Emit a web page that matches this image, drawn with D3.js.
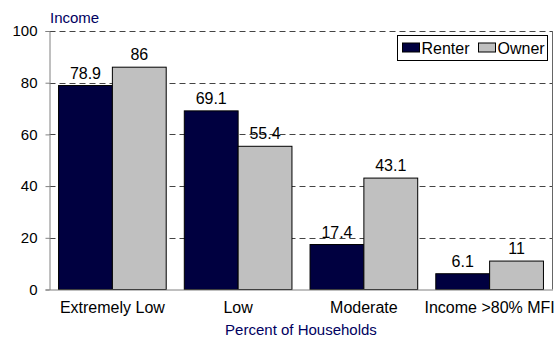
<!DOCTYPE html>
<html>
<head>
<meta charset="utf-8">
<script src="https://cdn.jsdelivr.net/npm/d3@7"></script>
<style>
  html, body { margin: 0; padding: 0; background: #fff; }
  svg { display: block; font-family: "Liberation Sans", Arial, sans-serif; }
</style>
</head>
<body>
<svg id="chart" width="556" height="337"></svg>
<script>
// Housing data by income group
const categories = ["Extremely Low", "Low", "Moderate", "Income >80% MFI"];
const seriesNames = ["Renter", "Owner"];
const renter = [78.9, 69.1, 17.4, 6.1];
const owner = [86, 55.4, 43.1, 11];
const yTicks = [0, 20, 40, 60, 80, 100];
const colors = ["#000040", "#c0c0c0"];

const svg = d3.select("#chart");
const plotLeft = 49.5, plotRight = 552.5, plotTop = 31, plotBottom = 289.5;
const FONT = "Liberation Sans, Arial, sans-serif";

const x = d3.scaleBand().domain(categories).range([plotLeft, plotRight]).paddingInner(0).paddingOuter(0);
const xs = d3.scaleBand().domain(seriesNames).range([0, x.bandwidth()]).paddingInner(0).paddingOuter(0.168);
const y = d3.scaleLinear().domain([0, 100]).range([plotBottom, plotTop]);

// Dashed gridlines
svg.append("g")
  .selectAll("line")
  .data(yTicks.filter(d => d > 0))
  .join("line")
  .attr("x1", plotLeft).attr("x2", plotRight)
  .attr("y1", d => Math.round(y(d)) + 0.5).attr("y2", d => Math.round(y(d)) + 0.5)
  .attr("stroke", "#444").attr("stroke-width", 1)
  .attr("stroke-dasharray", "6,4");

// Right border of plot
svg.append("line")
  .attr("x1", plotRight).attr("x2", plotRight).attr("y1", plotTop).attr("y2", plotBottom)
  .attr("stroke", "#666");

// Bars
const rows = categories.map((c, i) => ({ c, vals: [renter[i], owner[i]] }));
const groups = svg.append("g").selectAll("g").data(rows).join("g")
  .attr("transform", d => `translate(${x(d.c)},0)`);

groups.selectAll("rect")
  .data(d => d.vals.map((v, j) => ({ v, s: seriesNames[j], j })))
  .join("rect")
  .attr("x", d => xs(d.s))
  .attr("width", xs.bandwidth())
  .attr("y", d => y(d.v))
  .attr("height", d => y(0) - y(d.v))
  .attr("fill", d => colors[d.j])
  .attr("stroke", "#000").attr("stroke-width", 1);

groups.selectAll("text")
  .data(d => d.vals.map((v, j) => ({ v, s: seriesNames[j] })))
  .join("text")
  .attr("x", d => xs(d.s) + xs.bandwidth() / 2)
  .attr("y", d => y(d.v) - 7)
  .attr("text-anchor", "middle")
  .attr("font-size", 16)
  .attr("fill", "#000")
  .text(d => d.v);

// Y axis
const yAxis = d3.axisLeft(y).tickValues(yTicks).tickSize(4).tickPadding(8);
const gy = svg.append("g").attr("transform", `translate(${plotLeft},0)`).call(yAxis);
gy.select(".domain").attr("stroke", "#808080");
gy.selectAll(".tick line").attr("stroke", "#808080");
gy.selectAll(".tick text").attr("font-size", 15).attr("fill", "#000")
  .attr("font-family", FONT);

// X axis
const xAxis = d3.axisBottom(x).tickSize(0).tickPadding(12);
const gx = svg.append("g").attr("transform", `translate(0,${plotBottom})`).call(xAxis);
gx.select(".domain").attr("stroke", "#808080");
gx.selectAll(".tick text").attr("font-size", 16).attr("fill", "#000")
  .attr("font-family", FONT);

// Axis titles
svg.append("text").attr("x", 50).attr("y", 23)
  .attr("font-size", 15).attr("fill", "#000060").text("Income");
svg.append("text").attr("x", (plotLeft + plotRight) / 2).attr("y", 335)
  .attr("text-anchor", "middle").attr("font-size", 15).attr("fill", "#000060")
  .text("Percent of Households");

// Legend
const lg = svg.append("g").attr("transform", "translate(397.5,35.5)");
lg.append("rect").attr("width", 150).attr("height", 25)
  .attr("fill", "#fff").attr("stroke", "#000");
const items = [{ n: "Renter", x: 5 }, { n: "Owner", x: 81 }];
items.forEach((it, j) => {
  lg.append("rect").attr("x", it.x).attr("y", 7.5).attr("width", 17).attr("height", 9)
    .attr("fill", colors[j]).attr("stroke", "#000");
  lg.append("text").attr("x", it.x + 19).attr("y", 18)
    .attr("font-size", 16).attr("fill", "#000").text(it.n);
});
</script>
</body>
</html>
